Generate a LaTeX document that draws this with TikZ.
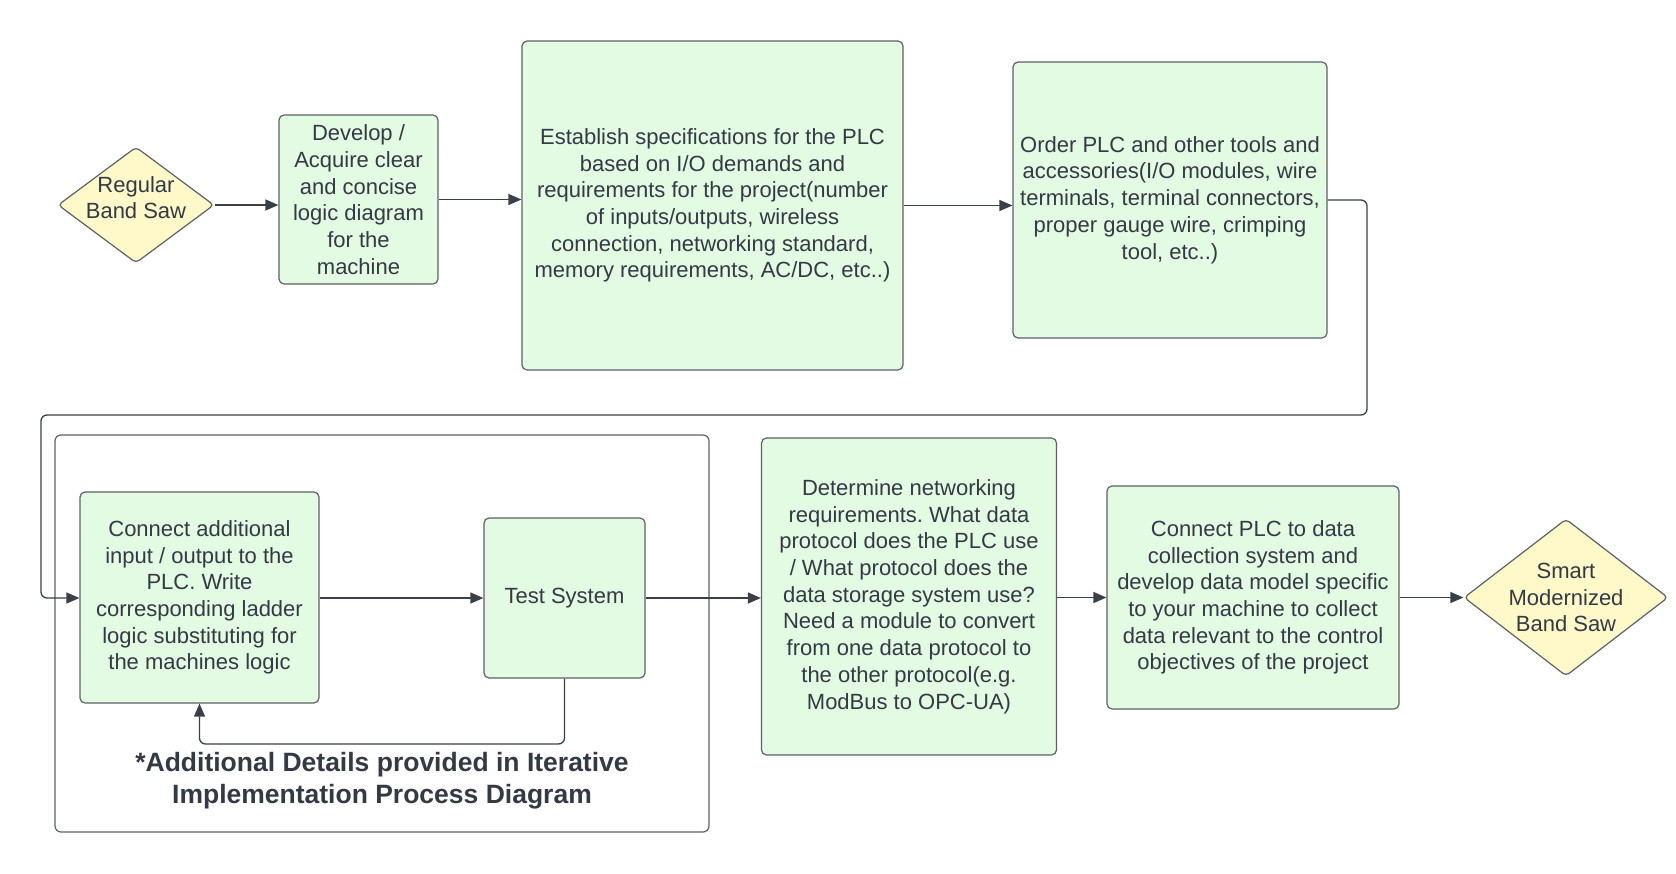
\documentclass[tikz,border=0pt]{standalone}
\usepackage{fontspec}
\setmainfont{Liberation Sans}
\usetikzlibrary{shapes.geometric,arrows.meta}
\frenchspacing
\definecolor{boxfill}{HTML}{E3FAE3}
\definecolor{boxdraw}{HTML}{5E6166}
\definecolor{dfill}{HTML}{FFF8C9}
\definecolor{txt}{HTML}{333A44}
\definecolor{linec}{HTML}{3A4048}
\begin{document}
\begin{tikzpicture}[x=1pt,y=-1pt,
  stepbox/.style={draw=boxdraw, line width=1.2pt, fill=boxfill, rounded corners=5pt, align=center, text=txt, font=\fontsize{22}{26.7}\selectfont, inner sep=0pt},
  dec/.style={diamond, draw=boxdraw, line width=1.2pt, fill=dfill, rounded corners=4pt, inner sep=0pt},
  dectext/.style={align=center, text=txt, font=\fontsize{22}{26.7}\selectfont, inner sep=0pt},
  grpbox/.style={draw=boxdraw, line width=1.2pt, rounded corners=6pt, inner sep=0pt},
  conn/.style={draw=linec, line width=1.3pt, -{Triangle[length=13pt,width=11pt]}},
]
\useasboundingbox (0,0) rectangle (1676,873);

% top row
\node[dec, minimum width=156pt, minimum height=116pt] (reg) at (136,205) {};
\node[dectext] (regt) at ([yshift=7.5pt]reg.center) {Regular\\Band Saw};
\node[stepbox, minimum width=159pt, minimum height=169pt] (dev) at (358.5,199.5) {Develop /\\Acquire clear\\and concise\\logic diagram\\for the\\machine};
\node[stepbox, minimum width=381pt, minimum height=329pt] (est) at (712.5,205.5) {Establish specifications for the PLC\\based on I/O demands and\\requirements for the project(number\\of inputs/outputs, wireless\\connection, networking standard,\\memory requirements, AC/DC, etc..)};
\node[stepbox, minimum width=314pt, minimum height=276pt] (ord) at (1170,200) {Order PLC and other tools and\\accessories(I/O modules, wire\\terminals, terminal connectors,\\proper gauge wire, crimping\\tool, etc..)};

% group container
\node[grpbox, minimum width=654pt, minimum height=397pt] (grp) at (382,633.5) {};
\node[stepbox, minimum width=239pt, minimum height=211pt] (con) at (199.5,597.5) {Connect additional\\input / output to the\\PLC. Write\\corresponding ladder\\logic substituting for\\the machines logic};
\node[stepbox, minimum width=161pt, minimum height=160pt] (test) at (564.5,598) {Test System};
\node[text=txt, align=center, font=\bfseries\fontsize{26.5}{31.7}\selectfont] (note) at (382,781) {*Additional Details provided in Iterative\\Implementation Process Diagram};

% bottom row right
\node[stepbox, minimum width=295pt, minimum height=317pt] (det) at (909,596.5) {Determine networking\\requirements. What data\\protocol does the PLC use\\/ What protocol does the\\data storage system use?\\Need a module to convert\\from one data protocol to\\the other protocol(e.g.\\ModBus to OPC-UA)};
\node[stepbox, minimum width=292pt, minimum height=223pt] (cplc) at (1253,597.5) {Connect PLC to data\\collection system and\\develop data model specific\\to your machine to collect\\data relevant to the control\\objectives of the project};
\node[dec, minimum width=204pt, minimum height=157pt] (smart) at (1566,597.5) {};
\node[dectext] (smartt) at (smart.center) {Smart\\Modernized\\Band Saw};

% connectors
\coordinate (c1) at (1367,415);
\coordinate (c2) at (41,598);
\coordinate (fb) at (199.5,744);
\draw[conn] (reg.east) -- (reg.east -| dev.west);
\draw[conn] (dev.east) -- (dev.east -| est.west);
\draw[conn] (est.east) -- (est.east -| ord.west);
\draw[conn, rounded corners=6pt] (ord.east) -| (c1) -| (c2) -- (c2 -| con.west);
\draw[conn] (con.east |- test.west) -- (test.west);
\draw[conn, rounded corners=6pt] (test.south) |- (fb) -- (con.south);
\draw[conn] (test.east) -- (test.east -| det.west);
\draw[conn] (det.east |- cplc.west) -- (cplc.west);
\draw[conn] (cplc.east) -- (cplc.east -| smart.west);
\end{tikzpicture}
\end{document}
